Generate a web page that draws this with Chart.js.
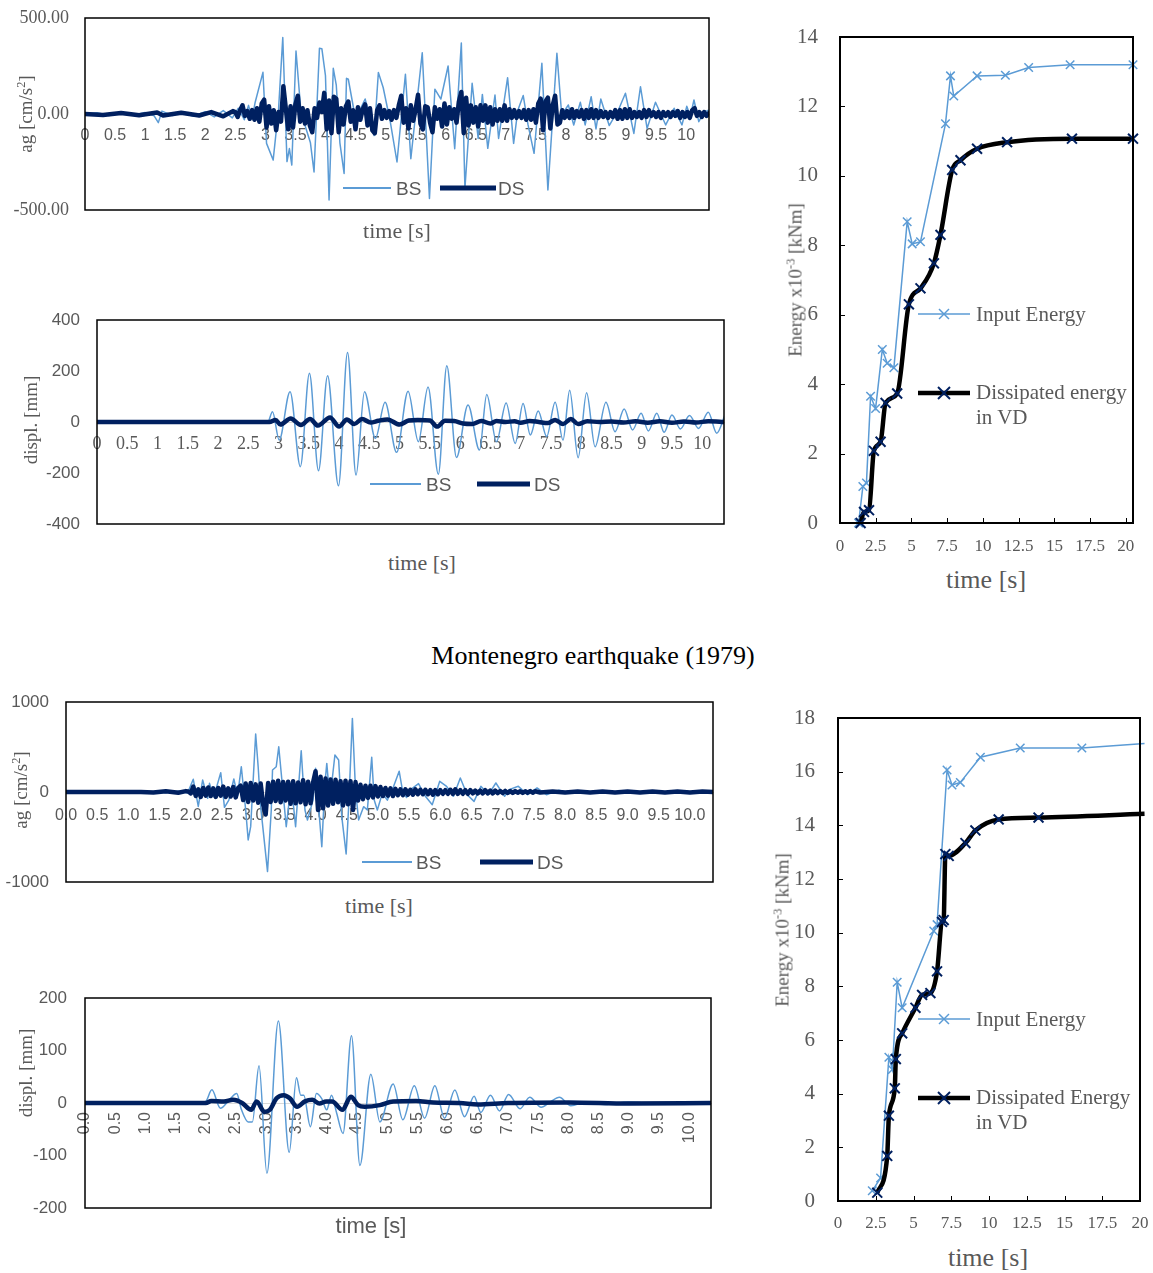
<!DOCTYPE html>
<html>
<head>
<meta charset="utf-8">
<script src="https://cdn.jsdelivr.net/npm/chart.js@4.4.1/dist/chart.umd.min.js"></script>
<style>
  body { margin: 0; background: #fff; }
  #page { position: relative; width: 1153px; height: 1273px; overflow: hidden; background: #fff; }
  canvas, svg { position: absolute; }
  .t { position: absolute; white-space: nowrap; color: #595959; line-height: 1; transform: translate(-50%, -50%); }
  .lg { transform: translate(0, -50%); }
  .rot { transform: translate(-50%, -50%) rotate(-90deg); }
  .serif { font-family: 'Liberation Serif', 'Times New Roman', serif; }
  .sans { font-family: 'Liberation Sans', Arial, sans-serif; }
  sup { font-size: 0.65em; vertical-align: 0.55em; line-height: 0; }
</style>
</head>
<body>
<div id="page">
  <canvas id="acc1" width="720" height="220" style="left:0;top:0"></canvas>
  <canvas id="disp1" width="735" height="228" style="left:0;top:305px"></canvas>
  <canvas id="energy1" width="383" height="540" style="left:770px;top:20px"></canvas>
  <canvas id="acc2" width="720" height="200" style="left:0;top:690px"></canvas>
  <canvas id="disp2" width="720" height="232" style="left:0;top:985px"></canvas>
  <canvas id="energy2" width="385" height="537" style="left:768px;top:700px"></canvas>

  <!-- first record -->
  <div class="t serif rot" style="left:25px;top:114px;font-size:19px">ag [cm/s<sup>2</sup>]</div>
  <div class="t serif" style="left:397px;top:231px;font-size:22px">time [s]</div>
  <svg style="left:343px;top:183px" width="48" height="10"><line x1="0" y1="5" x2="48" y2="5" stroke="#5b9bd5" stroke-width="2"/></svg>
  <div class="t sans lg" style="left:396px;top:188px;font-size:19px">BS</div>
  <svg style="left:440px;top:183px" width="56" height="10"><line x1="0" y1="5" x2="56" y2="5" stroke="#002060" stroke-width="5"/></svg>
  <div class="t sans lg" style="left:498px;top:188px;font-size:19px">DS</div>

  <div class="t serif rot" style="left:30px;top:420px;font-size:19px">displ. [mm]</div>
  <div class="t serif" style="left:422px;top:563px;font-size:22px">time [s]</div>
  <svg style="left:370px;top:479px" width="51" height="10"><line x1="0" y1="5" x2="51" y2="5" stroke="#5b9bd5" stroke-width="2"/></svg>
  <div class="t sans lg" style="left:426px;top:484px;font-size:19px">BS</div>
  <svg style="left:477px;top:479px" width="53" height="10"><line x1="0" y1="5" x2="53" y2="5" stroke="#002060" stroke-width="5"/></svg>
  <div class="t sans lg" style="left:534px;top:484px;font-size:19px">DS</div>

  <div class="t serif rot" style="left:795px;top:280px;font-size:19px">Energy x10<sup>-3</sup> [kNm]</div>
  <div class="t serif" style="left:986px;top:580px;font-size:26px">time [s]</div>
  <svg style="left:918px;top:306px" width="52" height="16"><line x1="0" y1="8" x2="52" y2="8" stroke="#5b9bd5" stroke-width="1.5"/><line x1="21" y1="3" x2="31" y2="13" stroke="#5b9bd5" stroke-width="1.5"/><line x1="21" y1="13" x2="31" y2="3" stroke="#5b9bd5" stroke-width="1.5"/></svg>
  <div class="t serif lg" style="left:976px;top:314px;font-size:21px">Input Energy</div>
  <svg style="left:918px;top:385px" width="52" height="16"><line x1="0" y1="8" x2="52" y2="8" stroke="#000" stroke-width="4.5"/><line x1="20" y1="2" x2="32" y2="14" stroke="#002060" stroke-width="2"/><line x1="20" y1="14" x2="32" y2="2" stroke="#002060" stroke-width="2"/></svg>
  <div class="t serif lg" style="left:976px;top:405px;font-size:21px;line-height:25px">Dissipated energy<br>in VD</div>

  <div class="t serif" style="left:593px;top:656px;font-size:26px;color:#000">Montenegro earthquake (1979)</div>

  <!-- Montenegro -->
  <div class="t serif rot" style="left:20px;top:790px;font-size:19px">ag [cm/s<sup>2</sup>]</div>
  <div class="t serif" style="left:379px;top:906px;font-size:22px">time [s]</div>
  <svg style="left:362px;top:857px" width="50" height="10"><line x1="0" y1="5" x2="50" y2="5" stroke="#5b9bd5" stroke-width="2"/></svg>
  <div class="t sans lg" style="left:416px;top:862px;font-size:19px">BS</div>
  <svg style="left:480px;top:857px" width="53" height="10"><line x1="0" y1="5" x2="53" y2="5" stroke="#002060" stroke-width="5"/></svg>
  <div class="t sans lg" style="left:537px;top:862px;font-size:19px">DS</div>

  <div class="t serif rot" style="left:25px;top:1073px;font-size:19px">displ. [mm]</div>
  <div class="t sans" style="left:371px;top:1226px;font-size:22px">time [s]</div>

  <div class="t serif rot" style="left:782px;top:930px;font-size:19px">Energy x10<sup>-3</sup> [kNm]</div>
  <div class="t serif" style="left:988px;top:1258px;font-size:26px">time [s]</div>
  <svg style="left:918px;top:1011px" width="52" height="16"><line x1="0" y1="8" x2="52" y2="8" stroke="#5b9bd5" stroke-width="1.5"/><line x1="21" y1="3" x2="31" y2="13" stroke="#5b9bd5" stroke-width="1.5"/><line x1="21" y1="13" x2="31" y2="3" stroke="#5b9bd5" stroke-width="1.5"/></svg>
  <div class="t serif lg" style="left:976px;top:1019px;font-size:21px">Input Energy</div>
  <svg style="left:918px;top:1090px" width="52" height="16"><line x1="0" y1="8" x2="52" y2="8" stroke="#000" stroke-width="4.5"/><line x1="20" y1="2" x2="32" y2="14" stroke="#002060" stroke-width="2"/><line x1="20" y1="14" x2="32" y2="2" stroke="#002060" stroke-width="2"/></svg>
  <div class="t serif lg" style="left:976px;top:1110px;font-size:21px;line-height:25px">Dissipated Energy<br>in VD</div>
</div>

<script>
// tick values / labels
const timeTicks = [0, 0.5, 1, 1.5, 2, 2.5, 3, 3.5, 4, 4.5, 5, 5.5, 6, 6.5, 7, 7.5, 8, 8.5, 9, 9.5, 10];
const timeLabelsA = ['0', '0.5', '1', '1.5', '2', '2.5', '3', '3.5', '4', '4.5', '5', '5.5', '6', '6.5', '7', '7.5', '8', '8.5', '9', '9.5', '10'];
const timeLabelsB = ['0.0', '0.5', '1.0', '1.5', '2.0', '2.5', '3.0', '3.5', '4.0', '4.5', '5.0', '5.5', '6.0', '6.5', '7.0', '7.5', '8.0', '8.5', '9.0', '9.5', '10.0'];
const energyTimeTicks = [0, 2.5, 5, 7.5, 10, 12.5, 15, 17.5, 20];
const acc1Ticks = [-500, 0, 500];
const acc1Labels = ['-500.00', '0.00', '500.00'];
const disp1Ticks = [-400, -200, 0, 200, 400];
const acc2Ticks = [-1000, 0, 1000];
const disp2Ticks = [-200, -100, 0, 100, 200];

// first record, ground acceleration [t, cm/s2]
const accBS1 = [[0,0],[0.2,6],[0.4,-8],[0.6,5],[0.8,-6],[1.0,8],[1.15,-10],[1.22,-45],[1.28,15],[1.45,-8],[1.6,10],[1.8,-12],[2.0,12],[2.15,-15],[2.3,18],[2.45,-20],[2.55,30],[2.65,-30],[2.72,45],[2.78,-25],
  [2.83,60],[2.96,217],[3.02,-153],[3.13,-240],[3.22,26],[3.29,398],[3.36,-248],[3.40,-180],[3.44,-266],[3.51,328],[3.60,-20],[3.66,-60],[3.75,-150],[3.81,-302],[3.90,342],[3.94,340],[4.0,200],[4.06,-448],[4.13,238],[4.18,150],
  [4.24,-150],[4.31,-310],[4.35,186],[4.38,181],[4.50,-26],[4.66,78],[4.81,-112],[4.88,216],[4.96,138],[5.08,-43],[5.19,-250],[5.33,207],[5.42,-233],[5.61,319],[5.73,-440],[5.82,129],[5.92,78],[6.04,250],[6.15,-181],[6.26,370],
  [6.32,-387],[6.44,160],[6.54,-127],[6.61,102],[6.70,-179],[6.82,99],[6.88,-127],[7.03,189],[7.13,-153],[7.20,20],[7.29,96],[7.37,-57],[7.47,-205],[7.60,264],[7.70,-396],[7.85,316],[7.93,-5],[8.04,47],[8.13,-57],[8.24,61],
  [8.32,-57],[8.42,90],[8.50,-78],[8.58,78],[8.72,-60],[8.88,26],[8.99,108],[9.13,-101],[9.24,142],[9.35,-75],[9.49,61],[9.66,-57],[9.80,30],[9.93,-57],[10.01,40],[10.07,-10],[10.13,73],[10.21,-40],[10.30,10],[10.38,21]];
// DS: quiet start, then the record read every 0.04 s from 2.50 s
const accDS1Quiet = [[0,0],[0.3,-5],[0.6,5],[0.9,-6],[1.2,8],[1.3,-8],[1.6,6],[1.9,-8],[2.1,10],[2.3,-12],[2.46,15]];
const accDS1Start = 2.5;
const accDS1Step = 0.04;
const accDS1 = [10,-15,20,45,-10,15,-25,20,-30,30,
  -40,55,75,-70,40,-50,20,-85,10,-40,
  145,30,-80,40,-70,50,95,-40,30,-50,
  20,-60,-95,30,-20,60,10,110,-80,70,
  -100,90,80,-95,30,-55,40,65,-40,20,
  -80,35,-30,25,50,-60,30,-85,-100,20,
  45,-25,20,-20,15,-30,20,-20,45,95,
  -45,30,-75,45,-35,25,100,-50,-80,40,
  35,-45,-95,35,-25,25,-65,55,-55,35,
  -25,25,-45,65,115,-100,85,-60,45,-45,
  35,-65,45,-35,45,-45,35,-55,25,-35,
  25,-35,45,-35,25,-20,20,-20,15,-20,
  20,-30,20,-30,25,-45,55,80,-85,65,
  85,-75,45,95,-55,-45,20,-20,15,-20,
  25,-20,15,-15,20,-25,20,-20,25,-20,
  20,-20,15,-15,10,-20,10,-15,20,-25,
  20,-25,25,-20,25,-20,10,-15,10,-20,
  20,-15,20,-10,10,-15,10,-20,10,-10,
  10,-15,10,-10,15,-20,10,-15,10,-20,
  20,30,-10,10,-15,10,-10,5];

// first record, displacement [t, mm]
const dispBS1 = [[0,0],[2.82,0],[2.90,40],[3.01,-71],[3.19,119],[3.36,-175],[3.51,191],[3.66,-191],[3.81,181],[3.99,-250],[4.14,273],[4.28,-208],[4.42,119],[4.60,-64],[4.76,77],[4.95,-119],[5.14,121],[5.31,-77],[5.47,137],[5.64,-205],
  [5.78,221],[5.94,-139],[6.13,67],[6.32,-110],[6.44,108],[6.60,-77],[6.76,75],[6.91,-84],[7.04,73],[7.16,-51],[7.29,43],[7.43,-57],[7.57,77],[7.70,-71],[7.81,125],[7.95,-140],[8.09,115],[8.23,-97],[8.41,77],[8.56,-38],
  [8.71,51],[8.85,-31],[8.99,34],[9.11,-35],[9.25,34],[9.37,-40],[9.50,27],[9.64,-27],[9.79,25],[9.94,-25],[10.10,38],[10.24,-44],[10.38,30]];
const dispDS1 = [[0,0],[2.85,0],[2.95,8],[3.03,-10],[3.20,14],[3.37,-12],[3.52,12],[3.65,-14],[3.85,18],[4.0,-18],[4.13,10],[4.25,-8],[4.38,12],[4.52,-2],[4.65,5],[4.80,10],[5.0,-10],[5.15,6],[5.30,8],[5.50,6],
  [5.62,-18],[5.75,5],[5.90,4],[6.05,-6],[6.20,-8],[6.35,4],[6.50,-6],[6.60,4],[6.75,0],[6.90,3],[7.0,-3],[7.15,4],[7.30,0],[7.45,-4],[7.57,8],[7.70,-8],[7.83,12],[7.95,-8],[8.10,3],[8.30,0],
  [8.50,2],[8.70,-2],[8.90,3],[9.10,-3],[9.30,3],[9.50,-3],[9.70,2],[9.90,-2],[10.10,3],[10.38,0]];

// first record, energy [t, kNm x10^-3]
const inputEnergy1 = [[1.3,0.0],[1.6,1.05],[1.85,1.15],[2.14,3.65],[2.49,3.3],[2.96,5.0],[3.3,4.6],[3.77,4.47],[4.7,8.68],[5.05,8.04],[5.63,8.1],[7.38,11.5],[7.73,12.88],[7.96,12.3],[9.59,12.88],[11.57,12.9],[13.2,13.12],[16.1,13.2],[20.5,13.2]];
const dissEnergy1 = [[1.44,0],[1.68,0.32],[2.03,0.37],[2.37,2.08],[2.84,2.34],[3.19,3.46],[4.0,3.73],[4.82,6.3],[5.63,6.76],[6.57,7.48],[7.03,8.3],[7.85,10.17],[8.43,10.45],[9.59,10.78],[11.69,10.97],[16.23,11.07],[20.5,11.07]];

// Montenegro, ground acceleration
const accBS2 = [[0,0],[1.2,0],[1.4,5],[1.6,-8],[1.8,10],[1.95,-10],
  [2.04,141],[2.12,-160],[2.19,133],[2.27,-70],[2.30,96],[2.37,-52],[2.48,215],[2.54,-170],[2.61,-90],[2.69,144],[2.75,-40],[2.81,281],[2.88,-200],[2.92,-533],[2.96,-385],[3.04,644],[3.08,281],[3.12,-163],[3.23,-884],[3.29,-200],
  [3.31,244],[3.37,281],[3.41,503],[3.46,133],[3.53,-385],[3.61,96],[3.68,-385],[3.77,459],[3.83,-200],[3.87,-311],[3.96,-89],[4.0,263],[4.04,-89],[4.10,-607],[4.15,96],[4.18,318],[4.23,-89],[4.31,411],[4.37,355],[4.42,-274],
  [4.49,-688],[4.53,-163],[4.59,818],[4.64,22],[4.69,-311],[4.77,-163],[4.83,-200],[4.90,385],[4.94,-89],[4.99,-200],[5.07,-15],[5.15,-90],[5.25,60],[5.34,231],[5.40,-11],[5.46,-60],[5.55,40],[5.65,93],[5.76,-48],[5.87,-141],
  [5.99,119],[6.10,63],[6.21,-48],[6.32,156],[6.43,-30],[6.54,-104],[6.65,63],[6.77,-30],[6.89,100],[7.03,-48],[7.10,26],[7.25,63],[7.40,-30],[7.55,45],[7.70,-30],[7.9,20],[8.1,-15],[8.3,15],[8.5,-12],[8.7,12],
  [8.9,-10],[9.1,12],[9.3,-10],[9.5,10],[9.7,-10],[9.9,12],[10.1,-8],[10.37,5]];
// DS: quiet start, dense part read every 0.04 s from 1.96 s, quiet tail
const accDS2Quiet = [[0,0],[1.2,0],[1.4,-6],[1.6,8],[1.8,-8],[1.92,10]];
const accDS2Start = 1.96;
const accDS2Step = 0.04;
const accDS2 = [5,-15,60,-45,30,-55,45,-40,50,-45,
  40,-55,45,-40,60,-55,40,-50,55,-60,
  45,70,-90,95,-110,100,-95,85,-120,95,
  -140,-250,100,-110,115,-100,125,-115,110,-95,
  115,-130,120,-125,105,-115,130,-135,115,-125,
  105,230,-200,170,-180,150,-150,140,-130,135,
  -115,120,-150,125,-135,120,-200,110,-95,80,
  -80,70,-65,70,-60,65,-50,55,-45,45,
  -40,40,-45,35,-35,30,-35,30,-30,25,
  -30,30,-25,25,-25,25,-25,20,-30,20,
  -25,20,-20,20,-20,25,-20,30,-20,20,
  -20,20,-20,20,-15,15,-15,15,-15,20,
  -15,15,-15,15,-12,10,-12,12,-10,10,
  -10,10,-8,8,-10,8,-8,10,-8,8];
const accDS2Tail = [[7.6,-6],[7.8,6],[8.0,-6],[8.2,5],[8.4,-6],[8.6,5],[8.8,-5],[9.0,6],[9.2,-5],[9.4,5],[9.6,-6],[9.8,5],[10.0,-5],[10.2,5],[10.37,0]];

// Montenegro, displacement
const dispBS2 = [[0,0],[1.9,0],[2.0,3],[2.10,25],[2.24,-10],[2.38,5],[2.51,18],[2.59,-13],[2.70,-36],[2.77,-36],[2.88,71],[3.01,-134],[3.20,156],[3.38,-94],[3.50,48],[3.57,15],[3.62,15],[3.73,-45],[3.83,18],[3.92,8],
  [4.0,-13],[4.08,15],[4.16,-17],[4.27,-58],[4.41,128],[4.55,-119],[4.73,55],[4.88,-36],[5.10,36],[5.26,-32],[5.45,33],[5.62,-29],[5.79,33],[5.95,-29],[6.12,25],[6.28,-26],[6.44,13],[6.55,-18],[6.71,15],[6.86,-15],
  [7.01,16],[7.20,-11],[7.36,11],[7.55,-8],[7.70,2],[7.85,11],[8.04,-5],[8.3,2],[8.6,-3],[9.0,2],[9.5,-2],[10.0,2],[10.36,0]];
const dispDS2 = [[0,0],[2.0,0],[2.09,4],[2.3,3],[2.45,6],[2.6,0],[2.75,-13],[2.84,3],[2.97,-17],[3.06,-13],[3.17,9],[3.29,15],[3.39,9],[3.51,-7],[3.64,3],[3.76,6],[3.88,-1],[3.99,3],[4.09,3],[4.26,-13],
  [4.40,12],[4.52,-4],[4.63,-7],[4.88,-4],[5.10,3],[5.48,4],[5.76,1],[6.2,0],[6.5,-3],[7.0,0],[8.0,1],[9.0,-1],[10.36,0]];

// Montenegro, energy
const inputEnergy2 = [[2.27,0.38],[2.82,0.86],[3.37,5.36],[3.6,4.9],[3.92,8.15],[4.25,7.2],[6.34,10.06],[6.56,10.3],[7.22,16.06],[7.55,15.5],[8.1,15.6],[9.43,16.54],[12.07,16.88],[16.15,16.88],[20.3,17.05]];
const dissEnergy2 = [[2.6,0.31],[3.26,1.68],[3.37,3.18],[3.76,4.2],[3.83,5.29],[4.25,6.25],[5.13,7.2],[5.57,7.68],[6.12,7.75],[6.56,8.56],[6.89,10.4],[7.0,10.47],[7.11,12.93],[7.33,12.86],[8.44,13.34],[9.1,13.81],[10.64,14.22],[13.28,14.29],[20.3,14.43]];

const blue = '#5b9bd5';
const navy = '#002060';
const grey = '#595959';

function pts(pairs) {
  return pairs.map(p => ({ x: p[0], y: p[1] }));
}

// evenly read record -> [t, v] pairs
function sampled(start, step, values) {
  return values.map((v, i) => [Math.round((start + i * step) * 100) / 100, v]);
}

// black box round the plot, plus inward tick marks for the energy plots
const framePlugin = {
  id: 'frame',
  afterDatasetsDraw(chart, args, opts) {
    const a = chart.chartArea;
    const ctx = chart.ctx;
    ctx.save();
    ctx.strokeStyle = '#000';
    ctx.lineWidth = opts.width || 1.5;
    ctx.strokeRect(a.left, a.top, a.right - a.left, a.bottom - a.top);
    if (opts.inTicks) {
      ctx.lineWidth = 1;
      const sx = chart.scales.x, sy = chart.scales.y;
      sx.ticks.forEach(t => {
        const px = Math.round(sx.getPixelForValue(t.value)) + 0.5;
        ctx.beginPath(); ctx.moveTo(px, a.bottom); ctx.lineTo(px, a.bottom - opts.inTicks); ctx.stroke();
      });
      sy.ticks.forEach(t => {
        const py = Math.round(sy.getPixelForValue(t.value)) + 0.5;
        ctx.beginPath(); ctx.moveTo(a.left, py); ctx.lineTo(a.left + opts.inTicks, py); ctx.stroke();
      });
    }
    ctx.restore();
  }
};

function seriesChart(id, s) {
  const mode = s.smooth ? 'monotone' : 'default';
  return new Chart(document.getElementById(id), {
    type: 'line',
    data: {
      datasets: [
        { label: 'DS', data: pts(s.ds), borderColor: navy, borderWidth: 4.5, pointRadius: 0, order: 0,
          borderJoinStyle: 'round', borderCapStyle: 'round', cubicInterpolationMode: mode },
        { label: 'BS', data: pts(s.bs), borderColor: blue, borderWidth: 1.5, pointRadius: 0, order: 1,
          borderJoinStyle: 'round', cubicInterpolationMode: mode }
      ]
    },
    options: {
      responsive: false,
      animation: false,
      events: [],
      layout: { padding: s.pad },
      plugins: { legend: { display: false }, tooltip: { enabled: false }, frame: { width: 1.5 } },
      scales: {
        x: {
          type: 'linear', min: 0, max: s.xMax, position: { y: 0 },
          grid: { display: false, drawTicks: false },
          border: { color: '#d9d9d9', width: 1 },
          afterBuildTicks: sc => { sc.ticks = timeTicks.map(v => ({ value: v })); },
          ticks: {
            autoSkip: false, minRotation: s.rot, maxRotation: s.rot, padding: s.xPad, color: grey, font: s.xFont,
            callback: v => s.xLabels[timeTicks.indexOf(v)]
          }
        },
        y: {
          min: s.yTicks[0], max: s.yTicks[s.yTicks.length - 1],
          afterFit: sc => { sc.width = s.yW; sc.paddingTop = 0; sc.paddingBottom = 0; },
          afterBuildTicks: sc => { sc.ticks = s.yTicks.map(v => ({ value: v })); },
          grid: { display: false, drawTicks: false },
          border: { display: false },
          ticks: {
            padding: s.yPad, color: grey, font: s.yFont,
            callback: v => s.yLabels ? s.yLabels[s.yTicks.indexOf(v)] : String(v)
          }
        }
      }
    },
    plugins: [framePlugin]
  });
}

function energyChart(id, s) {
  // the Montenegro plot has no marker on the last (off-plot) point
  const radius = r => ctx => (s.noLastMarker && ctx.dataIndex === ctx.dataset.data.length - 1) ? 0 : r;
  return new Chart(document.getElementById(id), {
    type: 'line',
    data: {
      datasets: [
        { label: 'Dissipated energy in VD', data: pts(s.diss), borderColor: '#000', borderWidth: 4.5,
          borderJoinStyle: 'round', pointStyle: 'crossRot', pointRadius: radius(7), pointBorderColor: navy, pointBorderWidth: 2,
          cubicInterpolationMode: 'monotone', order: 0, clip: false },
        { label: 'Input Energy', data: pts(s.input), borderColor: blue, borderWidth: 1.5,
          pointStyle: 'crossRot', pointRadius: radius(6), pointBorderColor: blue, pointBorderWidth: 1.5,
          order: 1, clip: false }
      ]
    },
    options: {
      responsive: false,
      animation: false,
      events: [],
      layout: { padding: s.pad },
      plugins: { legend: { display: false }, tooltip: { enabled: false }, frame: { width: 2, inTicks: 5 } },
      scales: {
        x: {
          type: 'linear', min: 0, max: s.xMax,
          afterFit: sc => { sc.height = 30; sc.paddingLeft = 0; sc.paddingRight = 0; },
          afterBuildTicks: sc => { sc.ticks = energyTimeTicks.map(v => ({ value: v })); },
          grid: { display: false, drawTicks: false },
          border: { display: false },
          ticks: { autoSkip: false, maxRotation: 0, padding: s.xPad, color: grey, font: { family: 'Liberation Serif', size: 17 } }
        },
        y: {
          min: 0, max: s.yMax,
          afterFit: sc => { sc.width = 70; sc.paddingTop = 0; sc.paddingBottom = 0; },
          grid: { display: false, drawTicks: false },
          border: { display: false },
          ticks: { stepSize: 2, padding: s.yPad, color: grey, font: { family: 'Liberation Serif', size: 21 } }
        }
      }
    },
    plugins: [framePlugin]
  });
}

seriesChart('acc1', {
  bs: accBS1, ds: accDS1Quiet.concat(sampled(accDS1Start, accDS1Step, accDS1)), smooth: false, xMax: 10.38, rot: 0,
  pad: { top: 18, right: 11, bottom: 10, left: 0 },
  yW: 85, yPad: 16, yTicks: acc1Ticks, yLabels: acc1Labels,
  yFont: { family: 'Liberation Serif', size: 18 },
  xLabels: timeLabelsA, xPad: 12, xFont: { family: 'Liberation Sans', size: 16 }
});

seriesChart('disp1', {
  bs: dispBS1, ds: dispDS1, smooth: true, xMax: 10.36, rot: 0,
  pad: { top: 15, right: 11, bottom: 9, left: 0 },
  yW: 97, yPad: 17, yTicks: disp1Ticks, yLabels: null,
  yFont: { family: 'Liberation Sans', size: 17 },
  xLabels: timeLabelsA, xPad: 11, xFont: { family: 'Liberation Serif', size: 18 }
});

energyChart('energy1', {
  input: inputEnergy1, diss: dissEnergy1, xMax: 20.5, yMax: 14, noLastMarker: false,
  pad: { top: 17, right: 20, bottom: 7, left: 0 }, xPad: 13, yPad: 22
});

seriesChart('acc2', {
  bs: accBS2, ds: accDS2Quiet.concat(sampled(accDS2Start, accDS2Step, accDS2), accDS2Tail), smooth: false, xMax: 10.37, rot: 0,
  pad: { top: 12, right: 7, bottom: 8, left: 0 },
  yW: 66, yPad: 17, yTicks: acc2Ticks, yLabels: null,
  yFont: { family: 'Liberation Sans', size: 17 },
  xLabels: timeLabelsB, xPad: 14, xFont: { family: 'Liberation Sans', size: 16 }
});

seriesChart('disp2', {
  bs: dispBS2, ds: dispDS2, smooth: true, xMax: 10.36, rot: 90,
  pad: { top: 13, right: 9, bottom: 9, left: 0 },
  yW: 85, yPad: 18, yTicks: disp2Ticks, yLabels: null,
  yFont: { family: 'Liberation Sans', size: 17 },
  xLabels: timeLabelsB, xPad: 9, xFont: { family: 'Liberation Sans', size: 16 }
});

energyChart('energy2', {
  input: inputEnergy2, diss: dissEnergy2, xMax: 20, yMax: 18, noLastMarker: true,
  pad: { top: 18, right: 13, bottom: 6, left: 0 }, xPad: 12, yPad: 23
});
</script>
</body>
</html>
